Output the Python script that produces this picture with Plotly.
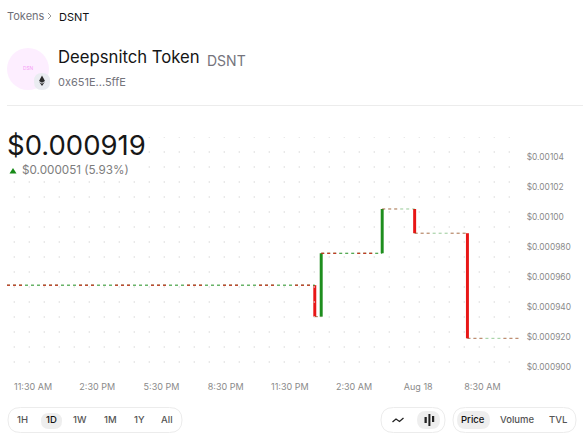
import numpy as np
import plotly.graph_objects as go

W, H = 584, 447
FONT = "Inter"

# --- data ---
candle_times = ["2025-08-18 00:40", "2025-08-18 00:58", "2025-08-18 03:49", "2025-08-18 05:20", "2025-08-18 07:48"]
candle_open = [0.0009546, 0.0009337, 0.0009758, 0.0010052, 0.0009891]
candle_close = [0.0009337, 0.0009758, 0.0010052, 0.0009891, 0.0009193]

flat_start = ["2025-08-17 10:17", "2025-08-18 00:40", "2025-08-18 00:58", "2025-08-18 03:49", "2025-08-18 05:20", "2025-08-18 07:48"]
flat_end = ["2025-08-18 00:40", "2025-08-18 00:58", "2025-08-18 03:49", "2025-08-18 05:20", "2025-08-18 07:48", "2025-08-18 10:12"]
flat_price = [0.0009546, 0.0009337, 0.0009758, 0.0010052, 0.0009891, 0.0009193]
flat_opacity = [1.0, 0.45, 1.0, 0.45, 0.45, 0.45]

x_tick_vals = ["2025-08-17 11:30", "2025-08-17 14:30", "2025-08-17 17:30", "2025-08-17 20:30",
               "2025-08-17 23:30", "2025-08-18 02:30", "2025-08-18 05:30", "2025-08-18 08:30"]
x_tick_text = ["11:30 AM", "2:30 PM", "5:30 PM", "8:30 PM", "11:30 PM", "2:30 AM", "Aug 18", "8:30 AM"]
y_tick_vals = [0.00104, 0.00102, 0.00100, 0.00098, 0.00096, 0.00094, 0.00092, 0.00090]
y_tick_text = ["$0.00104", "$0.00102", "$0.00100", "$0.000980", "$0.000960", "$0.000940", "$0.000920", "$0.000900"]
x_range = ["2025-08-17 10:17", "2025-08-18 10:21"]
y_range = [0.00089694, 0.001053]

RED, GREEN = "#e81616", "#1e8e1e"
GREY = "#8a8a8a"

fig = go.Figure()

# dot grid on a pixel-scaled overlay axis
L, R, T, B = 7, 522, 137, 372
gx, gy = np.meshgrid(np.arange(14.3, 510, 15), np.arange(137, 364, 15))
fig.add_trace(go.Scatter(x=gx.ravel(), y=gy.ravel(), mode="markers", xaxis="x2", yaxis="y2",
                         marker=dict(size=1.6, color="#dcdcdc", line_width=0), hoverinfo="skip"))

# flat stretches made of tiny red/green doji marks
for s, e, p, o in zip(flat_start, flat_end, flat_price, flat_opacity):
    fig.add_trace(go.Scatter(x=[s, e], y=[p, p], mode="lines", opacity=o,
                             line=dict(color=GREEN, width=1, dash="3px,3px"), hoverinfo="skip"))
    fig.add_trace(go.Scatter(x=[s, e], y=[p, p], mode="lines", opacity=o,
                             line=dict(color=RED, width=1, dash="3px,3px,3px,3px,3px,21px"), hoverinfo="skip"))

# candles
fig.add_trace(go.Bar(x=candle_times,
                     y=[c - o for o, c in zip(candle_open, candle_close)],
                     base=candle_open, width=500000,
                     marker=dict(color=[GREEN if c > o else RED for o, c in zip(candle_open, candle_close)], line_width=0),
                     hoverinfo="skip"))

def px(x): return x / W
def py(y): return 1 - y / H

ann = []
def text(x, y, s, size=12, color="#111", anchor="left", weight=None):
    ann.append(dict(x=px(x - 1.5 if anchor == "left" else x), y=py(y), xref="paper", yref="paper", text=s, showarrow=False,
                    xanchor=anchor, yanchor="middle", borderpad=0,
                    font=dict(family=FONT, size=size, color=color, weight=weight)))

def pill(x0, x1, y0, y1, fill="white", line="#ececec", layer="below"):
    r = min((x1 - x0), (y1 - y0)) / 2
    X0, X1, Y0, Y1 = px(x0), px(x1), py(y0), py(y1)
    rx, ry = r / W, r / H
    path = (f"M{X0+rx},{Y0} L{X1-rx},{Y0} Q{X1},{Y0} {X1},{Y0-ry} L{X1},{Y1+ry} Q{X1},{Y1} {X1-rx},{Y1} "
            f"L{X0+rx},{Y1} Q{X0},{Y1} {X0},{Y1+ry} L{X0},{Y0-ry} Q{X0},{Y0} {X0+rx},{Y0} Z")
    return dict(type="path", xref="paper", yref="paper", path=path, fillcolor=fill,
                line=dict(color=line, width=1 if line != "rgba(0,0,0,0)" else 0), layer=layer)

def poly(points, fill="#222", line=None, width=1):
    path = "M" + " L".join(f"{px(a)},{py(b)}" for a, b in points)
    if line is None:
        path += " Z"
        return dict(type="path", xref="paper", yref="paper", path=path, fillcolor=fill, line_width=0)
    return dict(type="path", xref="paper", yref="paper", path=path, line=dict(color=line, width=width))

shapes = [
    # white area behind the price block hides the dot grid
    dict(type="rect", xref="paper", yref="paper", x0=0, x1=px(146), y0=py(176), y1=py(128),
         fillcolor="white", line_width=0, layer="above"),
    # divider
    dict(type="line", xref="paper", yref="paper", x0=px(7), x1=px(583), y0=py(105.5), y1=py(105.5),
         line=dict(color="#ececec", width=1), layer="below"),
    # avatar
    dict(type="circle", xref="paper", yref="paper", x0=px(7), x1=px(49), y0=py(90), y1=py(48),
         fillcolor="#fdeeff", line_width=0, layer="below"),
    pill(34, 50, 73, 90, fill="#eaecf1", line="rgba(0,0,0,0)"),
    poly([(42, 75.5), (45, 81), (42, 82.8), (39, 81)], fill="#2b2b2b"),
    poly([(39.3, 82), (42, 83.8), (44.7, 82), (42, 86)], fill="#2b2b2b"),
    # breadcrumb chevron
    poly([(48, 13), (51, 16), (48, 19)], line="#9a9a9a", width=1),
    # up triangle
    poly([(9.5, 173.4), (16.5, 173.4), (13, 168)], fill="#178a17"),
    # controls
    pill(8, 182, 407.5, 432.5),
    pill(41, 62, 413, 429, fill="#eeeeee", line="rgba(0,0,0,0)"),
    pill(381, 445, 407.5, 432.5),
    pill(417, 440, 411, 429, fill="#eeeeee", line="rgba(0,0,0,0)"),
    pill(453, 576, 407.5, 432.5),
    pill(457, 490, 411, 429, fill="#eeeeee", line="rgba(0,0,0,0)"),
    # line icon
    poly([(392.5, 422), (396, 419), (399.5, 421.5), (403.5, 418)], line="#222", width=1.3),
    # candle icon
    poly([(424.5, 417), (426.8, 417), (426.8, 423), (424.5, 423)], fill="#222"),
    poly([(428.4, 414), (430.4, 414), (430.4, 426), (428.4, 426)], fill="#222"),
    poly([(432, 416), (434.2, 416), (434.2, 422), (432, 422)], fill="#222"),
]

text(7, 16, "Tokens", 11, "#6f6f78")
text(59.5, 17, "DSNT", 11, "#111111")
text(28, 68, "DSN", 4.8, "#f59cf5", anchor="center")
text(58.5, 57, "Deepsnitch Token", 16.7, "#151515")
text(207, 60, "DSNT", 14, "#74747c")
text(58, 82, "0x651E...5ffE", 11, "#74747c")
text(7.5, 145, "$0.000919", 27.5, "#171717")
text(22.5, 170, "$0.000051 (5.93%)", 11.7, "#7d7d7d")

for cx, lab, col in [(22.5, "1H", "#555"), (51, "1D", "#111"), (80, "1W", "#555"),
                     (110, "1M", "#555"), (139, "1Y", "#555"), (167, "All", "#555")]:
    text(cx, 419.5, lab, 9.5, col, anchor="center", weight=500)
for cx, lab, col in [(473, "Price", "#111"), (517, "Volume", "#555"), (558, "TVL", "#555")]:
    text(cx, 419.5, lab, 9.5, col, anchor="center", weight=500)

fig.update_layout(
    width=W, height=H, autosize=False, showlegend=False, barmode="overlay",
    paper_bgcolor="white", plot_bgcolor="rgba(0,0,0,0)",
    margin=dict(l=0, r=0, t=0, b=0, pad=0),
    font=dict(family=FONT),
    xaxis=dict(domain=[L / W, R / W], type="date", range=x_range, tickmode="array", tickvals=x_tick_vals, ticktext=x_tick_text,
               tickfont=dict(size=9, color=GREY, family=FONT), tickangle=0, showgrid=False, zeroline=False,
               showline=False, ticks="outside", ticklen=6, tickcolor="rgba(0,0,0,0)", automargin=False),
    yaxis=dict(domain=[1 - B / H, 1 - T / H], range=y_range, side="right", tickmode="array", tickvals=y_tick_vals, ticktext=y_tick_text,
               tickfont=dict(size=8.4, color=GREY, family=FONT), showgrid=False, zeroline=False,
               showline=False, ticks="outside", ticklen=2, tickcolor="rgba(0,0,0,0)", automargin=False),
    xaxis2=dict(range=[L, R], overlaying="x", visible=False, fixedrange=True),
    yaxis2=dict(range=[B, T], overlaying="y", visible=False, fixedrange=True),
    shapes=shapes, annotations=ann,
)
fig.write_html("out.html", config=dict(displayModeBar=False),
               post_script="document.body.style.margin='0';document.body.style.overflow='hidden';")
